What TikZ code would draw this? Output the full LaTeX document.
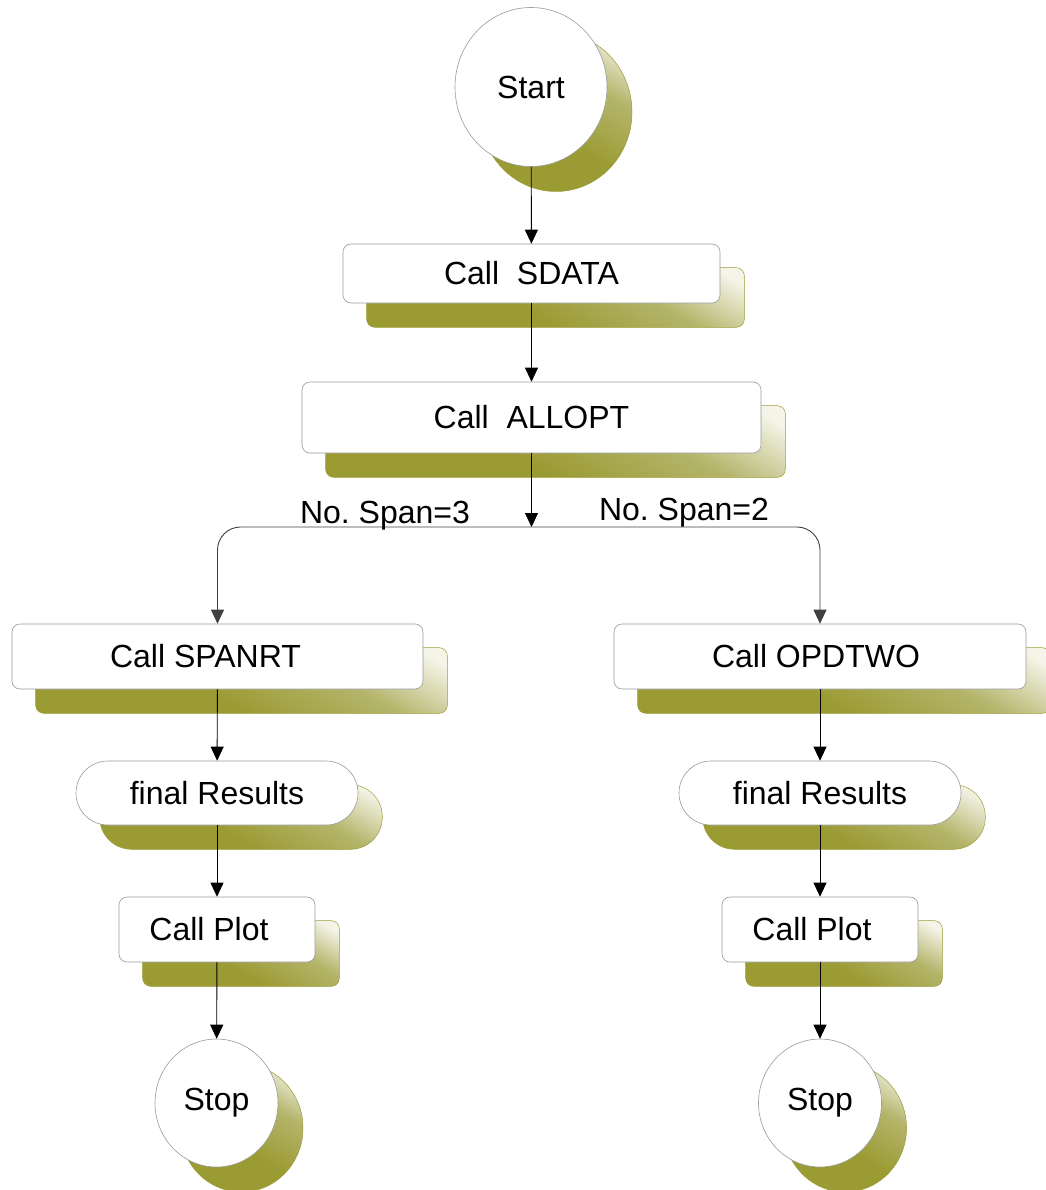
\documentclass[tikz,border=0pt]{standalone}
\usepackage{fontspec}
\setmainfont{Liberation Sans}
\usetikzlibrary{shapes.geometric,arrows.meta}
\definecolor{oD}{RGB}{155,155,52}
\definecolor{oM}{RGB}{180,180,106}
\definecolor{oL}{RGB}{244,244,232}
\pgfdeclareverticalshading{olv}{100bp}{color(0bp)=(oD); color(25bp)=(oD); color(43bp)=(oD); color(63bp)=(oM); color(80bp)=(oL); color(100bp)=(oL)}
\pgfdeclarelayer{bg}
\pgfsetlayers{bg,main}
\tikzset{
  txt/.style={font=\fontsize{32}{38}\selectfont},
  box/.style={txt, draw=black!40, fill=white, rounded corners=8pt, line width=0.6pt, inner sep=0pt},
  pill/.style={box, rounded corners=31.9pt},
  circ/.style={txt, ellipse, draw=black!40, fill=white, line width=0.6pt, inner sep=0pt},
  shd/.style={draw=oD, line width=0.5pt, shading=olv, shading angle=-30},
  arr/.style={-{Triangle[width=13pt,length=14pt]}, line width=0.9pt},
}
\begin{document}
\frenchspacing
\begin{tikzpicture}[x=1pt,y=-1pt]
\useasboundingbox (0,0) rectangle (1045,1190);
% nodes
\node[circ, minimum width=152pt, minimum height=159pt] (st) at (531,87) {Start};
\node[box, minimum width=377pt, minimum height=59pt] (sd) at (531.5,273.5) {Call~~SDATA};
\node[box, minimum width=459pt, minimum height=71pt] (al) at (531.5,417.5) {Call~~ALLOPT};
\node[box, minimum width=411pt, minimum height=65pt] (sp) at (217.5,656.5) {Call SPANRT\hspace*{24pt}};
\node[box, minimum width=412pt, minimum height=65pt] (op) at (820,656.5) {Call OPDTWO\hspace*{8pt}};
\node[pill, minimum width=282pt, minimum height=64pt] (fl) at (217,793) {final Results};
\node[pill, minimum width=282pt, minimum height=64pt] (fr) at (820,793) {final Results};
\node[box, minimum width=196pt, minimum height=65pt] (pl) at (217,929.5) {Call Plot\hspace*{16pt}};
\node[box, minimum width=196pt, minimum height=65pt] (pr) at (820,929.5) {Call Plot\hspace*{16pt}};
\node[circ, minimum width=123pt, minimum height=128pt] (sl) at (216.5,1103) {Stop};
\node[circ, minimum width=123pt, minimum height=128pt] (sr) at (820,1103) {Stop};
% shadows
\begin{pgfonlayer}{bg}
\shade[shd] ([shift={(25,25)}]st.center) ellipse [x radius=76pt, y radius=79.5pt];
\shade[shd] ([shift={(25,25)}]sl.center) ellipse [x radius=61.5pt, y radius=64pt];
\shade[shd] ([shift={(25,25)}]sr.center) ellipse [x radius=61.5pt, y radius=64pt];
\foreach \n in {sd,al,sp,op,pl,pr}{
  \shade[shd, rounded corners=8pt] ([shift={(24,24)}]\n.south west) rectangle ([shift={(24,24)}]\n.north east);
}
\foreach \n in {fl,fr}{
  \shade[shd, rounded corners=31.9pt] ([shift={(24,24)}]\n.south west) rectangle ([shift={(24,24)}]\n.north east);
}
\end{pgfonlayer}
% connectors
\coordinate (J) at (531.5,527);
\draw[arr] (st) -- (sd);
\draw[arr] (sd) -- (al);
\draw[arr] (al) -- (J);
\draw[arr, rounded corners=23pt, draw=black!75] (J) -| (sp.north);
\draw[arr, rounded corners=23pt, draw=black!75] (J) -| (op.north);
\draw[arr] (sp) -- (fl);
\draw[arr] (op) -- (fr);
\draw[arr] (fl) -- (pl);
\draw[arr] (fr) -- (pr);
\draw[arr] (pl) -- (sl);
\draw[arr] (pr) -- (sr);
% labels
\node[txt, inner sep=0pt, anchor=base] (l3) at (385,523) {No. Span=3};
\node[txt, inner sep=0pt, anchor=base] (l2) at (684,520) {No. Span=2};
\end{tikzpicture}
\end{document}
